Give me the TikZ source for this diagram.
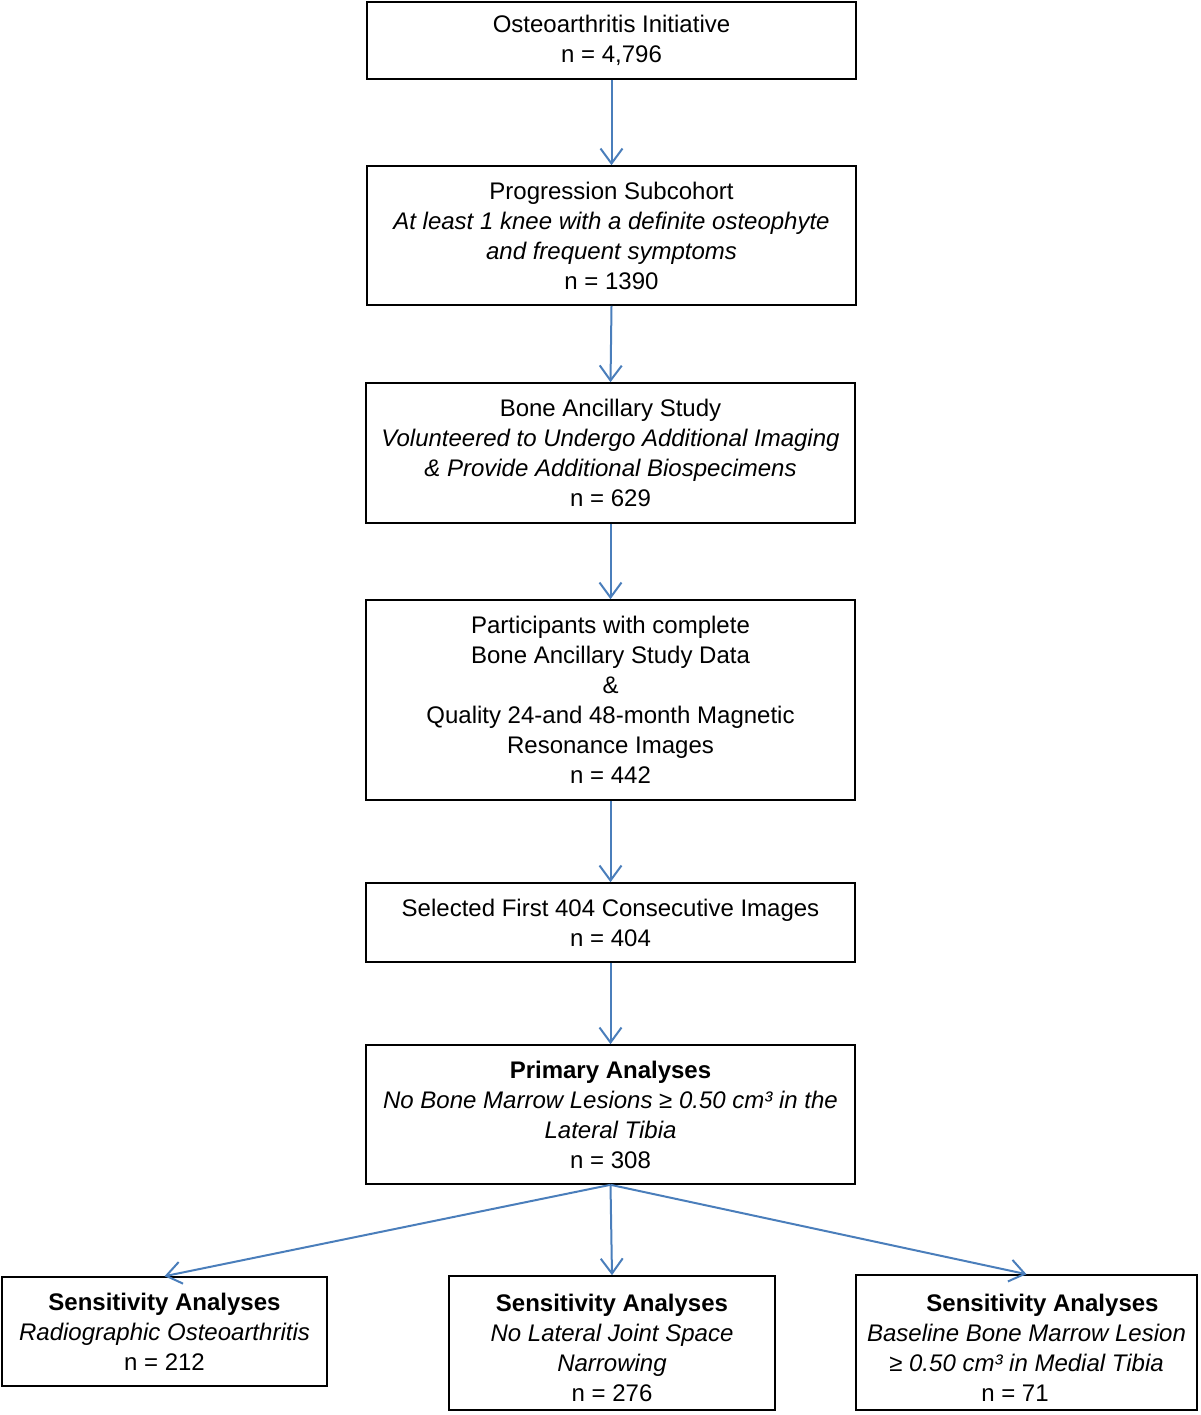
\documentclass[tikz,border=0pt]{standalone}
\usepackage{fontspec}
\setmainfont{Liberation Sans}
\usepackage{xcolor}
\usepackage{tikz}
\usetikzlibrary{arrows.meta}
\definecolor{arrowblue}{RGB}{74,126,187}
\tikzset{
  box/.style={draw, line width=1.6pt, align=center, inner sep=0pt,
    font=\fontsize{24}{30}\selectfont},
  flow/.style={draw=arrowblue, line width=2pt,
    -{Straight Barb[length=15pt,width=22pt,line width=2pt]}}
}

\begin{document}
\begin{tikzpicture}[x=1pt,y=-1pt]
\useasboundingbox (0,0) rectangle (1200,1415);
\begin{scope}[every node/.style={box}]
  \node[minimum width=489, minimum height=77] (oai) at (611.5,40.5)
    {Osteoarthritis Initiative\\n = 4,796};
  \node[minimum width=489, minimum height=139] (prog) at (611.5,235.5)
    {Progression Subcohort\\\textit{At least 1 knee with a definite osteophyte}\\
     \textit{and frequent symptoms}\\n = 1390};
  \node[minimum width=489, minimum height=140] (bone) at (610.5,453)
    {Bone Ancillary Study\\\textit{Volunteered to Undergo Additional Imaging}\\
     \textit{\& Provide Additional Biospecimens}\\n = 629};
  \node[minimum width=489, minimum height=200] (part) at (610.5,700)
    {Participants with complete\\Bone Ancillary Study Data\\\&\\
     Quality 24-and 48-month Magnetic\\Resonance Images\\n = 442};
  \node[minimum width=489, minimum height=79] (sel) at (610.5,922.5)
    {Selected First 404 Consecutive Images\\n = 404};
  \node[minimum width=489, minimum height=139] (prim) at (610.5,1114.5)
    {\textbf{Primary Analyses}\\\textit{No Bone Marrow Lesions ≥ 0.50 cm³ in the}\\
     \textit{Lateral Tibia}\\n = 308};
  \node[minimum width=325, minimum height=109] (sensa) at (164.5,1331.5)
    {\textbf{Sensitivity Analyses}\\\textit{Radiographic Osteoarthritis}\\n = 212};
  \node[minimum width=326, minimum height=134] (sensb) at (612,1343)
    {\rule{0pt}{27pt}\textbf{Sensitivity Analyses}\\\textit{No Lateral Joint Space}\\
     \textit{Narrowing}\\n = 276};
  \node[minimum width=341, minimum height=135] (sensc) at (1026.5,1342.5)
    {\rule{0pt}{27pt}\hspace*{32pt}\textbf{Sensitivity Analyses}\\\textit{Baseline Bone Marrow Lesion}\\
     \textit{≥ 0.50 cm³ in Medial Tibia}\hspace*{16pt}\\n = 71\hspace*{23pt}};
\end{scope}
\draw[flow] (oai.south) -- (prog.north);
\draw[flow] (prog.south) -- (bone.north);
\draw[flow] (bone.south) -- (part.north);
\draw[flow] (part.south) -- (sel.north);
\draw[flow] (sel.south) -- (prim.north);
\draw[flow] (prim.south) -- (sensa.north);
\draw[flow] (prim.south) -- (sensb.north);
\draw[flow] (prim.south) -- (sensc.north);
\end{tikzpicture}
\end{document}
